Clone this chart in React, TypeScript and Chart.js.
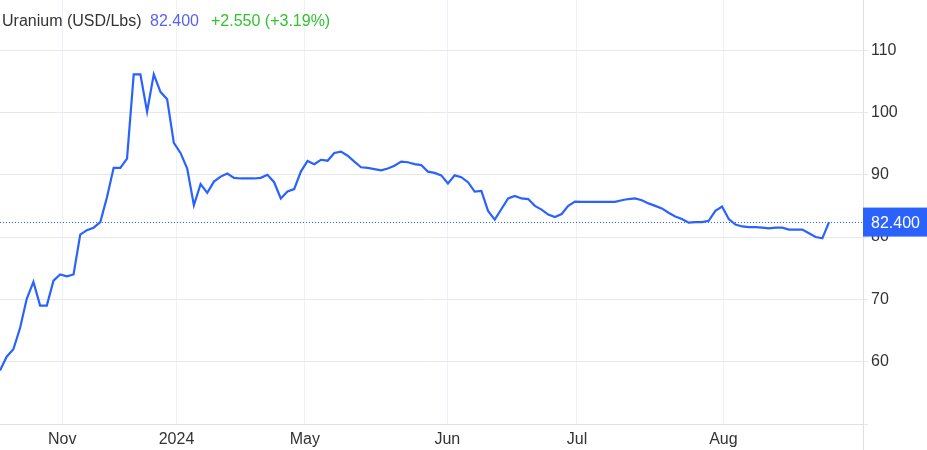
import { Chart, registerables } from 'chart.js';
import { useEffect, useRef } from 'react';

Chart.register(...registerables);

// price per point, oldest first (weekly, then daily)
const prices = [
  58.6, 60.8, 62.0, 65.4, 70.1, 72.8, 69.0, 69.0, 73.0, 74.0,
  73.7, 74.0, 80.4, 81.1, 81.5, 82.4, 86.4, 91.1, 91.1, 92.6,
  106.1, 106.1, 100.1, 106.1, 103.3, 102.1, 95.1, 93.5, 91.0, 85.1,
  88.5, 87.1, 88.9, 89.7, 90.2, 89.5, 89.4, 89.4, 89.4, 89.5,
  90.0, 88.8, 86.2, 87.3, 87.7, 90.5, 92.2, 91.7, 92.4, 92.25,
  93.5, 93.7, 93.05, 92.1, 91.2, 91.1, 90.9, 90.7, 91.0, 91.45,
  92.1, 92.0, 91.7, 91.55, 90.5, 90.3, 89.9, 88.6, 89.9, 89.6,
  88.8, 87.3, 87.4, 84.2, 82.8, 84.5, 86.2, 86.6, 86.2, 86.1,
  85.0, 84.4, 83.6, 83.2, 83.7, 85.0, 85.7, 85.65, 85.65, 85.65,
  85.65, 85.65, 85.65, 85.9, 86.1, 86.2, 85.9, 85.4, 85.0, 84.6,
  83.9, 83.3, 82.9, 82.3, 82.4, 82.4, 82.6, 84.2, 84.9, 82.9,
  82.0, 81.7, 81.6, 81.6, 81.5, 81.4, 81.5, 81.5, 81.2, 81.2,
  81.2, 80.6, 80.0, 79.8, 82.4,
];

const monthLabels = ['Nov', '2024', 'May', 'Jun', 'Jul', 'Aug'];
const monthAt = [9.3, 26.4, 45.6, 66.9, 86.3, 108.2];

const yTicks = [60, 70, 80, 90, 100, 110];

const lastPrice = 82.4;
const change = '+2.550 (+3.19%)';

const lineBlue = '#2962ff';
const font = '"Liberation Sans", Arial, sans-serif';

const noPadding = (scale: any) => {
  scale.paddingTop = 0;
  scale.paddingBottom = 0;
  scale.paddingLeft = 0;
  scale.paddingRight = 0;
};

const lastTag = {
  id: 'lastTag',
  beforeDatasetsDraw(chart: any) {
    const { ctx, chartArea } = chart;
    const y = chart.scales.y.getPixelForValue(lastPrice);
    ctx.save();
    ctx.strokeStyle = lineBlue;
    ctx.lineWidth = 1;
    ctx.setLineDash([1, 2]);
    ctx.beginPath();
    ctx.moveTo(chartArea.left, Math.round(y) + 0.5);
    ctx.lineTo(chartArea.right, Math.round(y) + 0.5);
    ctx.stroke();
    ctx.restore();
  },
  afterDraw(chart: any) {
    const { ctx, chartArea, width, height } = chart;
    const y = chart.scales.y.getPixelForValue(lastPrice);
    ctx.save();
    // axis line continues to the bottom edge
    ctx.strokeStyle = '#e0e0e0';
    ctx.lineWidth = 1;
    ctx.beginPath();
    ctx.moveTo(chartArea.right + 0.5, chartArea.bottom);
    ctx.lineTo(chartArea.right + 0.5, height);
    ctx.stroke();

    ctx.fillStyle = lineBlue;
    ctx.fillRect(chartArea.right, y - 14.5, width - chartArea.right, 29);
    ctx.fillStyle = '#ffffff';
    ctx.font = '16px ' + font;
    ctx.textBaseline = 'middle';
    ctx.fillText(lastPrice.toFixed(3), chartArea.right + 8, y + 1);
    ctx.restore();
  },
};

function UraniumChart() {
  const canvasRef = useRef<HTMLCanvasElement | null>(null);

  useEffect(() => {
    const chart = new Chart(canvasRef.current as HTMLCanvasElement, {
      type: 'line',
      data: {
        datasets: [
          {
            data: prices.map((p, i) => ({ x: i, y: p })),
            borderColor: lineBlue,
            borderWidth: 2.2,
            pointRadius: 0,
            tension: 0,
            fill: false,
          },
        ],
      },
      options: {
        animation: false,
        responsive: true,
        maintainAspectRatio: false,
        layout: { padding: 0 },
        plugins: {
          legend: { display: false },
          tooltip: { enabled: false },
        },
        scales: {
          x: {
            type: 'linear',
            min: 0,
            max: 129.08,
            afterBuildTicks: (scale: any) => {
              scale.ticks = monthAt.map((v) => ({ value: v }));
            },
            afterFit: (scale: any) => {
              scale.height = 26;
              noPadding(scale);
            },
            ticks: {
              autoSkip: false,
              maxRotation: 0,
              padding: 6,
              color: '#333',
              font: { family: font, size: 16 },
              callback: (value: any) => {
                const k = monthAt.indexOf(value);
                return k >= 0 ? monthLabels[k] : '';
              },
            },
            grid: { color: '#eef1f6', drawTicks: false },
            border: { color: '#e0e0e0' },
          },
          y: {
            position: 'right',
            min: 50,
            max: 118.04,
            afterBuildTicks: (scale: any) => {
              scale.ticks = [50, ...yTicks].map((v) => ({ value: v }));
            },
            afterFit: (scale: any) => {
              scale.width = 64;
              noPadding(scale);
            },
            ticks: {
              padding: 3,
              color: '#333',
              font: { family: font, size: 16 },
              callback: (value: any) => (yTicks.includes(value) ? String(value) : ''),
            },
            grid: { color: '#e8e8e8', tickLength: 5 },
            border: { color: '#e0e0e0' },
          },
        },
      },
      plugins: [lastTag],
    });

    return () => chart.destroy();
  }, []);

  return (
    <div style={{ position: 'absolute', left: 0, top: 0, width: 927, height: 450, fontFamily: font }}>
      <canvas ref={canvasRef}></canvas>
      <div style={{ position: 'absolute', top: 12, left: 0, width: 927, fontSize: 16, whiteSpace: 'nowrap' }}>
        <span style={{ position: 'absolute', left: 2, color: '#333' }}>Uranium (USD/Lbs)</span>
        <span style={{ position: 'absolute', left: 150, color: '#5664f5' }}>{lastPrice.toFixed(3)}</span>
        <span style={{ position: 'absolute', left: 211, color: '#2ec42e' }}>{change}</span>
      </div>
    </div>
  );
}

export default function App() {
  return <UraniumChart />;
}
